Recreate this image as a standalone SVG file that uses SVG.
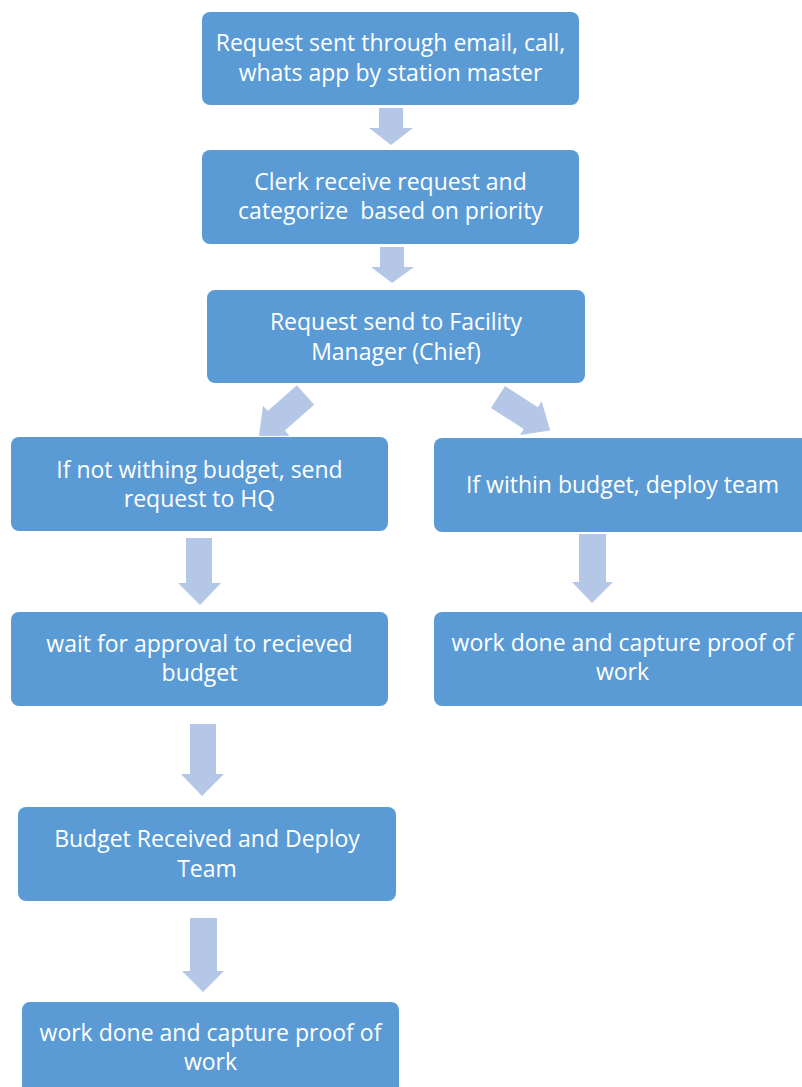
<svg xmlns="http://www.w3.org/2000/svg" width="802" height="1087" viewBox="0 0 802 1087">
<style>
.box{fill:#5B9BD5;}
.arr{fill:#B4C7E7;}
.t{font-family:"Open Sans","Liberation Sans",sans-serif;font-size:23px;fill:#FFFFFF;text-anchor:middle;white-space:pre;}
</style>
<defs>
<polygon id="diag" points="0,-13 39,-13 39,-20 62,0 39,20 39,13 0,13"/>
</defs>
<rect width="802" height="1087" fill="#FFFFFF"/>
<g id="connectors">
<polygon class="arr" points="379,108 403,108 403,128 413,128 391,145 369,128 379,128"/>
<polygon class="arr" points="380,247 404,247 404,267 414,267 392,283 371,267 380,267"/>
<use href="#diag" class="arr" transform="translate(305.5,395) rotate(138.6)"/>
<use href="#diag" class="arr" transform="translate(498,397) rotate(32.7)"/>
<polygon class="arr" points="186,538 212,538 212,583 221,583 200,605 178,583 186,583"/>
<polygon class="arr" points="579,534 606,534 606,582 613,582 592,603 572,582 579,582"/>
<polygon class="arr" points="190,724 216,724 216,774 224,774 202,796 181,774 190,774"/>
<polygon class="arr" points="190,918 217,918 217,971 224,971 203,992 182,971 190,971"/>
</g>
<g id="n1"><rect class="box" x="202" y="12" width="377" height="93" rx="8"/>
<text class="t" x="390.5" y="51">Request sent through email, call,</text>
<text class="t" x="390.5" y="81">whats app by station master</text></g>
<g id="n2"><rect class="box" x="202" y="150" width="377" height="94" rx="8"/>
<text class="t" x="390.5" y="190">Clerk receive request and</text>
<text class="t" x="390.5" y="219">categorize  based on priority</text></g>
<g id="n3"><rect class="box" x="207" y="290" width="378" height="93" rx="8"/>
<text class="t" x="396" y="330">Request send to Facility</text>
<text class="t" x="396" y="360">Manager (Chief)</text></g>
<g id="n4"><rect class="box" x="11" y="437" width="377" height="94" rx="8"/>
<text class="t" x="199.5" y="478">If not withing budget, send</text>
<text class="t" x="199.5" y="507">request to HQ</text></g>
<g id="n5"><rect class="box" x="434" y="438" width="377" height="94" rx="8"/>
<text class="t" x="622.5" y="493">If within budget, deploy team</text></g>
<g id="n6"><rect class="box" x="11" y="612" width="377" height="94" rx="8"/>
<text class="t" x="199.5" y="652">wait for approval to recieved</text>
<text class="t" x="199.5" y="681">budget</text></g>
<g id="n7"><rect class="box" x="434" y="612" width="377" height="94" rx="8"/>
<text class="t" x="622.5" y="651">work done and capture proof of</text>
<text class="t" x="622.5" y="680">work</text></g>
<g id="n8"><rect class="box" x="18" y="807" width="378" height="94" rx="8"/>
<text class="t" x="207" y="847">Budget Received and Deploy</text>
<text class="t" x="207" y="877">Team</text></g>
<g id="n9"><rect class="box" x="22" y="1002" width="377" height="94" rx="8"/>
<text class="t" x="210.5" y="1041">work done and capture proof of</text>
<text class="t" x="210.5" y="1070">work</text></g>
</svg>
